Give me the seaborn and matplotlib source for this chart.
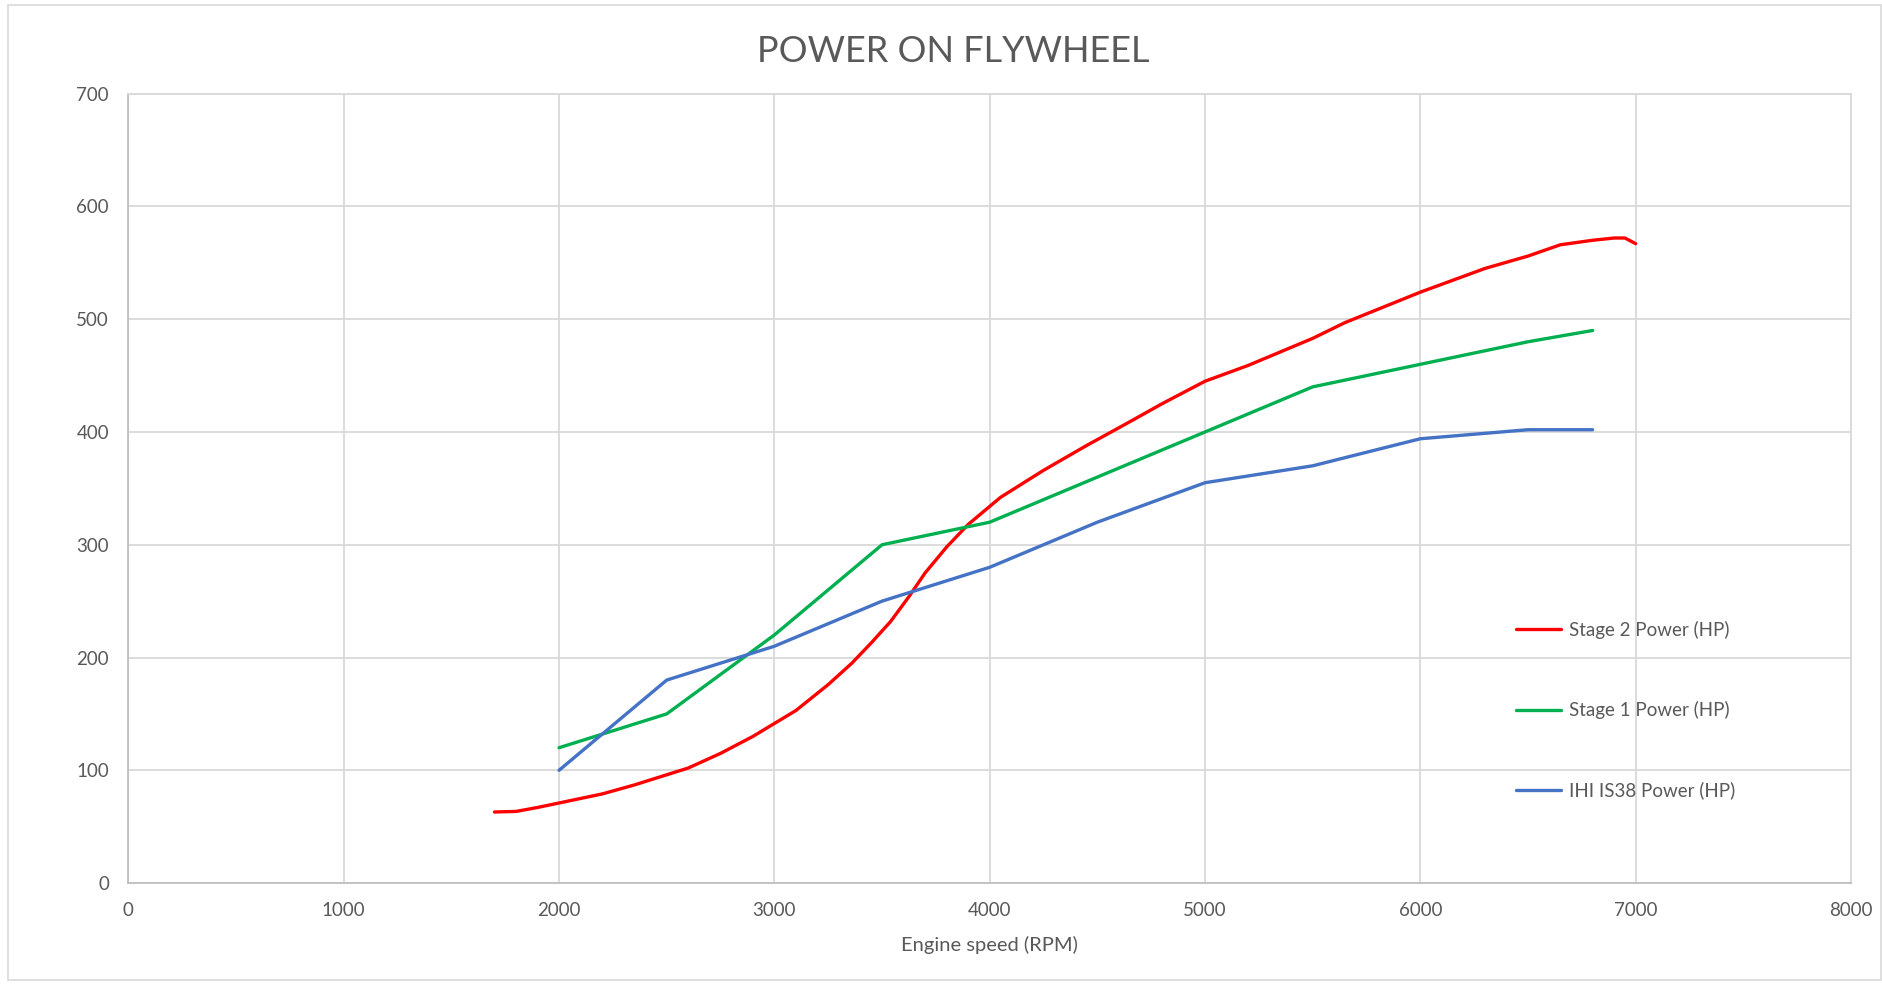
import pandas as pd
import matplotlib.pyplot as plt
import matplotlib.patches as mpatches
import seaborn as sns

# Dades llegides del gràfic
stage2_rpm = [1700, 1800, 1900, 2000, 2200, 2350, 2500, 2600, 2750, 2900, 3100, 3250,
              3360, 3450, 3540, 3625, 3700, 3800, 3900, 4050, 4250, 4450, 4650, 4800,
              5000, 5200, 5500, 5650, 6000, 6300, 6500, 6650, 6800, 6900, 6950, 7000]
stage2_hp = [63, 63.5, 67, 71, 79, 87, 96, 102, 115, 130, 153, 176,
             195, 213, 232, 254, 275, 298, 318, 342, 366, 388, 409, 425,
             445, 459, 483, 497, 524, 545, 556, 566, 570, 572, 572, 567]

stage1_rpm = [2000, 2500, 3000, 3500, 4000, 4500, 5000, 5500, 6000, 6500, 6800]
stage1_hp = [120, 150, 220, 300, 320, 360, 400, 440, 460, 480, 490]

ihi_rpm = [2000, 2500, 3000, 3500, 4000, 4500, 5000, 5500, 6000, 6500, 6800]
ihi_hp = [100, 180, 210, 250, 280, 320, 355, 370, 394, 402, 402]

labels = ['Stage 2 Power (HP)', 'Stage 1 Power (HP)', 'IHI IS38 Power (HP)']
colors = ['#ff0000', '#00b050', '#4472c4']

df = pd.concat([
    pd.DataFrame({'rpm': stage2_rpm, 'hp': stage2_hp, 'serie': labels[0]}),
    pd.DataFrame({'rpm': stage1_rpm, 'hp': stage1_hp, 'serie': labels[1]}),
    pd.DataFrame({'rpm': ihi_rpm, 'hp': ihi_hp, 'serie': labels[2]}),
])

sns.set_style("white")
plt.rcParams['font.family'] = ['Lato', 'DejaVu Sans']
gris = '#595959'
grid_col = '#d9d9d9'

fig = plt.figure(figsize=(18.83, 9.84), dpi=100)
ax = fig.add_axes([0.0682, 0.1026, 0.9148, 0.8022])

sns.lineplot(data=df, x='rpm', y='hp', hue='serie', hue_order=labels,
             palette=colors, estimator=None, sort=False, linewidth=2.4, ax=ax)

ax.set_xlim(0, 8000)
ax.set_ylim(0, 700)
ax.set_xticks(range(0, 8001, 1000))
ax.set_yticks(range(0, 701, 100))
ax.grid(True, color=grid_col, linewidth=1.3)
ax.set_axisbelow(True)
for s in ax.spines.values():
    s.set_color(grid_col)
    s.set_linewidth(1.3)
ax.spines['bottom'].set_color('#bfbfbf')
ax.spines['left'].set_color('#bfbfbf')
ax.tick_params(length=0, labelsize=13.5, labelcolor=gris, pad=14)

ax.set_xlabel('Engine speed (RPM)', fontsize=14.5, color=gris, labelpad=12)
ax.set_ylabel('')
fig.suptitle('POWER ON FLYWHEEL', fontsize=26, color=gris, x=0.506, y=0.948, va='center')

ax.legend(loc='center left', bbox_to_anchor=(0.8054, 0.219), frameon=False,
          fontsize=13.5, labelcolor=gris, handlelength=2.4, handletextpad=0.45,
          labelspacing=3.32, borderpad=0, borderaxespad=0)

# Vora de la figura
fig.patches.append(mpatches.Rectangle((0.004, 0.004), 0.995, 0.991, transform=fig.transFigure,
                                      fill=False, edgecolor=grid_col, linewidth=1.2))

plt.savefig('out.png', dpi=100)
plt.close()
